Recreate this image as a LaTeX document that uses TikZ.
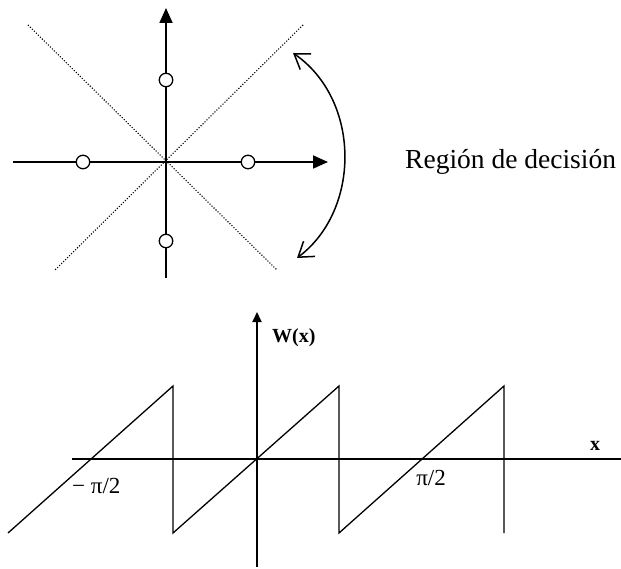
\documentclass[tikz,border=0pt]{standalone}
\usepackage{fontspec}
\setmainfont{Liberation Serif}
\usetikzlibrary{arrows.meta}
\begin{document}
\begin{tikzpicture}[x=1pt,y=-1pt,
  axis/.style={line width=1.8pt},
  bigtip/.style={-{Triangle[length=15pt,width=13pt]}},
  smalltip/.style={-{Triangle[length=10pt,width=9pt]}},
  dotline/.style={line width=1.1pt,dash pattern=on 1.1pt off 1.7pt},
  pnt/.style={circle,draw,fill=white,line width=1.3pt,minimum size=13.5pt,inner sep=0pt},
  saw/.style={line width=1.3pt,line join=miter},
  arcarrow/.style={line width=1.5pt,{Straight Barb[length=14pt,width=19pt,line width=1.5pt]}-{Straight Barb[length=14pt,width=19pt,line width=1.5pt]}},
  lbl/.style={inner sep=0pt}]
\useasboundingbox (0,0) rectangle (621,569);
% ---------- top: constellation ----------
\coordinate (dA1) at (28,25);  \coordinate (dA2) at (277,270);
\coordinate (dB1) at (303,25); \coordinate (dB2) at (55,270);
\draw[dotline] (dA1) -- (dA2);
\draw[dotline] (dB1) -- (dB2);
\coordinate (hl) at (13,162);  \coordinate (hr) at (328,162);
\coordinate (vb) at (166,278); \coordinate (vt) at (166,8);
\draw[axis,bigtip] (hl) -- (hr);
\draw[axis,bigtip] (vb) -- (vt);
\node[pnt] (p1) at (83,162) {};
\node[pnt] (p2) at (248,162) {};
\node[pnt] (p3) at (166,80) {};
\node[pnt] (p4) at (166,241) {};
\coordinate (at) at (293,53);
\coordinate (ab) at (297,258);
\draw[arcarrow] (at) .. controls (361,100) and (361,210) .. (ab);
\node[lbl,anchor=base west,font=\fontsize{27.5}{30}\selectfont] (reg) at (405,169) {Región de decisión};
% ---------- bottom: sawtooth ----------
\coordinate (xl) at (72,459); \coordinate (xr) at (621,459);
\coordinate (wb) at (257,567); \coordinate (wt) at (257,312);
\draw[line width=2.3pt] (xl) -- (xr);
\draw[line width=2pt,smalltip] (wb) -- (wt);
\coordinate (s0) at (8,533);
\coordinate (s1) at (173,386); \coordinate (s2) at (173,533);
\coordinate (s3) at (339,386); \coordinate (s4) at (339,533);
\coordinate (s5) at (504,386); \coordinate (s6) at (504,533);
\draw[saw] (s0) -- (s1) -- (s2) -- (s3) -- (s4) -- (s5) -- (s6);
\node[lbl,anchor=base west,font=\bfseries\fontsize{20}{22}\selectfont] (W) at (272,342) {W(x)};
\node[lbl,anchor=base,font=\bfseries\fontsize{20}{22}\selectfont] (xlab) at (595,450) {x};
\node[lbl,anchor=base,font=\fontsize{23}{25}\selectfont] (pp) at (431,485) {π/2};
\node[lbl,anchor=base west,font=\fontsize{23}{25}\selectfont] (mp) at (72,493) {− π/2};
\end{tikzpicture}
\end{document}
